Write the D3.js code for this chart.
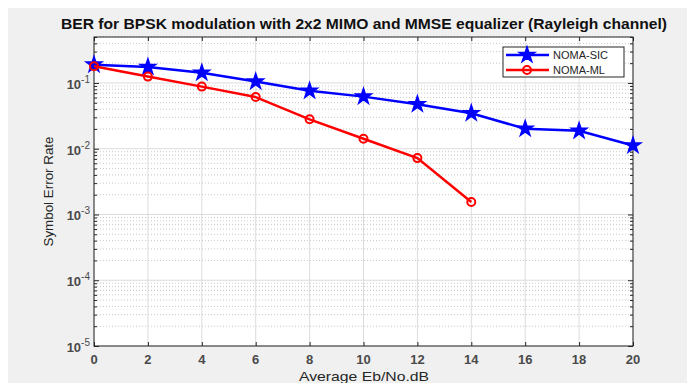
<!DOCTYPE html>
<html lang="en">
<head>
  <meta charset="UTF-8" />
  <title>BER for BPSK modulation</title>
  <script src="https://d3js.org/d3.v7.min.js"></script>
  <style>
    body { margin: 0; background: #fff; }
    svg { display: block; font-family: "Liberation Sans", Arial, sans-serif; }
  </style>
</head>
<body>
  <svg width="687" height="383"></svg>
  <script>
    // Values
    const snr = [0, 2, 4, 6, 8, 10, 12, 14, 16, 18, 20];
    const sicSer = [0.19, 0.175, 0.143, 0.105, 0.076, 0.062, 0.0475, 0.0347, 0.0201, 0.0187, 0.0112];
    const mlSnr = [0, 2, 4, 6, 8, 10, 12, 14];
    const mlSer = [0.18, 0.125, 0.088, 0.061, 0.028, 0.0142, 0.0072, 0.00155];
    const xTicks = [0, 2, 4, 6, 8, 10, 12, 14, 16, 18, 20];
    const yExps = [-5, -4, -3, -2, -1];

    const svg = d3.select("svg");
    const pL = 94, pR = 633, pT = 37, pB = 346;
    const axisCol = "#262626";

    // figure background
    svg.append("rect").attr("x", 8).attr("y", 8).attr("width", 679).attr("height", 375).attr("fill", "#f0f0f0");

    const x = d3.scaleLinear().domain([0, 20]).range([pL, pR]);
    const y = d3.scaleLog().domain([1e-5, 0.5]).range([pB, pT]);

    // axes background
    svg.append("rect").attr("x", pL).attr("y", pT).attr("width", pR - pL).attr("height", pB - pT).attr("fill", "#fff");

    // minor values
    const minor = [];
    yExps.forEach(e => {
      for (let m = 2; m <= 9; m++) {
        const v = m * Math.pow(10, e);
        if (v <= 0.5 + 1e-9) minor.push(v);
      }
    });

    const grid = svg.append("g");
    grid.selectAll("line.minor").data(minor).enter().append("line")
      .attr("x1", pL).attr("x2", pR)
      .attr("y1", d => y(d)).attr("y2", d => y(d))
      .attr("stroke", "#c8c8c8").attr("stroke-width", 1).attr("stroke-dasharray", "1,2");
    grid.selectAll("line.hy").data(yExps.map(e => Math.pow(10, e))).enter().append("line")
      .attr("x1", pL).attr("x2", pR)
      .attr("y1", d => y(d)).attr("y2", d => y(d))
      .attr("stroke", "#dcdcdc").attr("stroke-width", 1);
    grid.selectAll("line.vx").data(xTicks).enter().append("line")
      .attr("x1", d => x(d)).attr("x2", d => x(d))
      .attr("y1", pT).attr("y2", pB)
      .attr("stroke", "#dcdcdc").attr("stroke-width", 1);

    // axes with ticks on all sides
    const tickFmt = () => "";
    svg.append("g").attr("transform", `translate(0,${pB})`)
      .call(d3.axisBottom(x).tickValues(xTicks).tickSize(-4).tickSizeOuter(0).tickFormat(tickFmt));
    svg.append("g").attr("transform", `translate(0,${pT})`)
      .call(d3.axisTop(x).tickValues(xTicks).tickSize(-4).tickSizeOuter(0).tickFormat(tickFmt));
    svg.append("g").attr("transform", `translate(${pL},0)`)
      .call(d3.axisLeft(y).tickValues(yExps.map(e => Math.pow(10, e))).tickSize(-5).tickSizeOuter(0).tickFormat(tickFmt));
    svg.append("g").attr("transform", `translate(${pR},0)`)
      .call(d3.axisRight(y).tickValues(yExps.map(e => Math.pow(10, e))).tickSize(-5).tickSizeOuter(0).tickFormat(tickFmt));
    svg.append("g").attr("transform", `translate(${pL},0)`)
      .call(d3.axisLeft(y).tickValues(minor).tickSize(-3).tickSizeOuter(0).tickFormat(tickFmt));
    svg.append("g").attr("transform", `translate(${pR},0)`)
      .call(d3.axisRight(y).tickValues(minor).tickSize(-3).tickSizeOuter(0).tickFormat(tickFmt));
    svg.selectAll(".domain").remove();
    svg.selectAll(".tick line").attr("stroke", axisCol);

    svg.append("rect").attr("x", pL).attr("y", pT).attr("width", pR - pL).attr("height", pB - pT)
      .attr("fill", "none").attr("stroke", axisCol).attr("stroke-width", 1);

    // tick labels
    svg.append("g").selectAll("text").data(xTicks).enter().append("text")
      .attr("x", d => x(d)).attr("y", 364)
      .attr("text-anchor", "middle").attr("font-size", 13).attr("font-weight", "bold")
      .attr("fill", "#4a4a4a").text(d => d);

    const yl = svg.append("g").selectAll("text").data(yExps).enter().append("text")
      .attr("x", 90).attr("y", d => y(Math.pow(10, d)) + 6)
      .attr("text-anchor", "end").attr("font-size", 13).attr("font-weight", "bold").attr("fill", "#4a4a4a");
    yl.append("tspan").text("10");
    yl.append("tspan").attr("dy", -6).attr("font-size", 10).attr("font-weight", "normal").text(d => "-" + Math.abs(d));

    // titles
    svg.append("text").attr("x", 364).attr("y", 29).attr("text-anchor", "middle")
      .attr("font-size", 14).attr("font-weight", "bold").attr("fill", "#111")
      .attr("textLength", 606).attr("lengthAdjust", "spacingAndGlyphs")
      .text("BER for BPSK modulation with 2x2 MIMO and MMSE equalizer (Rayleigh channel)");
    svg.append("text").attr("x", 364).attr("y", 381).attr("text-anchor", "middle")
      .attr("font-size", 13).attr("fill", "#262626")
      .attr("textLength", 130).attr("lengthAdjust", "spacingAndGlyphs")
      .text("Average Eb/No.dB");
    svg.append("text").attr("transform", `translate(53,${(pT + pB) / 2}) rotate(-90)`)
      .attr("text-anchor", "middle").attr("font-size", 13).attr("fill", "#262626")
      .attr("textLength", 110).attr("lengthAdjust", "spacingAndGlyphs")
      .text("Symbol Error Rate");

    // series
    const star = d3.symbol().type(d3.symbolStar).size(75);
    const line = d3.line().x(d => x(d[0])).y(d => y(d[1]));

    const sic = snr.map((s, i) => [s, sicSer[i]]);
    const ml = mlSnr.map((s, i) => [s, mlSer[i]]);

    svg.append("path").datum(sic).attr("d", line)
      .attr("fill", "none").attr("stroke", "#0000ff").attr("stroke-width", 2.5);
    svg.append("g").selectAll("path").data(sic).enter().append("path")
      .attr("d", star).attr("transform", d => `translate(${x(d[0])},${y(d[1])})`)
      .attr("fill", "#0000ff").attr("stroke", "#0000ff").attr("stroke-width", 1.5);

    svg.append("path").datum(ml).attr("d", line)
      .attr("fill", "none").attr("stroke", "#ff0000").attr("stroke-width", 2.5);
    svg.append("g").selectAll("circle").data(ml).enter().append("circle")
      .attr("cx", d => x(d[0])).attr("cy", d => y(d[1])).attr("r", 4)
      .attr("fill", "none").attr("stroke", "#ff0000").attr("stroke-width", 2);

    // legend
    const lg = svg.append("g");
    lg.append("rect").attr("x", 503).attr("y", 47).attr("width", 121).attr("height", 30)
      .attr("fill", "#fff").attr("stroke", axisCol).attr("stroke-width", 1);
    const items = [
      { name: "NOMA-SIC", color: "#0000ff", mark: "star" },
      { name: "NOMA-ML", color: "#ff0000", mark: "circle" }
    ];
    items.forEach((it, i) => {
      const yy = 55 + i * 15;
      lg.append("line").attr("x1", 506).attr("x2", 549).attr("y1", yy).attr("y2", yy)
        .attr("stroke", it.color).attr("stroke-width", 2.5);
      if (it.mark === "star") {
        lg.append("path").attr("d", star).attr("transform", `translate(527,${yy})`)
          .attr("fill", it.color).attr("stroke", it.color).attr("stroke-width", 1.5);
      } else {
        lg.append("circle").attr("cx", 527).attr("cy", yy).attr("r", 4)
          .attr("fill", "none").attr("stroke", it.color).attr("stroke-width", 2);
      }
      lg.append("text").attr("x", 553).attr("y", yy + 4).attr("font-size", 11)
        .attr("fill", "#262626").text(it.name);
    });
  </script>
</body>
</html>
